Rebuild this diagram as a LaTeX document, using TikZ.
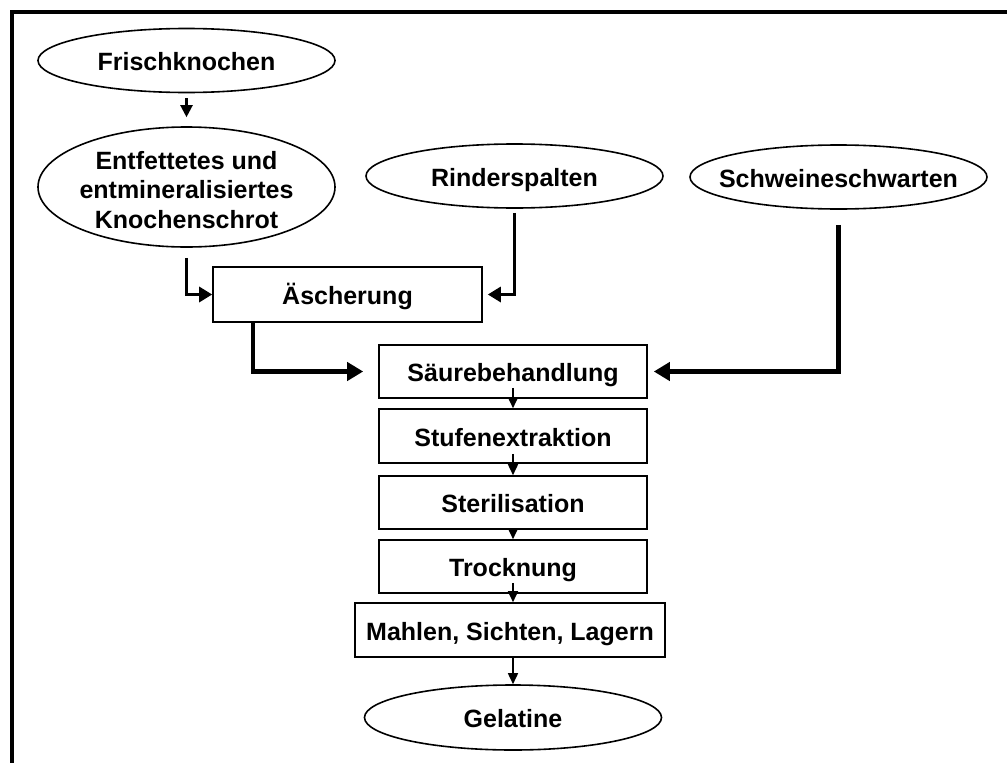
\documentclass[tikz,border=0pt]{standalone}
\usepackage{fontspec}
\setmainfont{Liberation Sans}
\usetikzlibrary{arrows.meta,shapes.geometric}
\tikzset{
  lbl/.style={font=\fontsize{25}{29.5}\selectfont\bfseries, align=center, inner sep=0pt},
  one/.style={text height=20pt, text depth=0pt},
  oval/.style={lbl, ellipse, draw, line width=1.6pt, minimum width=297pt, minimum height=64pt},
  stepbox/.style={lbl, one, rectangle, draw, line width=1.6pt, minimum width=268pt, minimum height=54pt},
  thinarrow/.style={line width=1.6pt, -{Triangle[length=11pt,width=10pt]}},
  midarrow/.style={line width=2.2pt, -{Triangle[length=12pt,width=12pt]}},
  medarrow/.style={line width=3pt, -{Triangle[length=13pt,width=15pt]}},
  thickarrow/.style={line width=4.5pt, -{Triangle[length=16pt,width=18pt]}},
}
\begin{document}
\begin{tikzpicture}[x=1pt,y=-1pt]
\useasboundingbox (0,0) rectangle (1007,763);
\fill[white] (0,0) rectangle (1007,763);
% frame (top and left edges)
\draw[line width=4pt] (1007,11.5) -- (11.5,11.5) -- (11.5,763);

% sources
\node[oval, one] (frisch) at (186.5,60.5) {Frischknochen};
\node[oval, minimum height=120pt, text height=82pt, text depth=0pt] (entf) at (186.5,187) {Entfettetes und\\\makebox[200pt]{entmineralisiertes}\\Knochenschrot};
\node[oval, one] (rind) at (514.5,176) {Rinderspalten};
\node[oval, one] (schw) at (838.5,177) {\makebox[200pt]{Schweineschwarten}};

% process steps
\node[stepbox, minimum width=269pt, minimum height=55pt] (asch) at (347.5,294.5) {Äscherung};
\node[stepbox, minimum height=53pt] (saeure) at (513,371.5) {Säurebehandlung};
\node[stepbox] (stufe) at (513,436) {Stufenextraktion};
\node[stepbox, minimum height=53pt] (steril) at (513,502.5) {Sterilisation};
\node[stepbox, minimum height=53pt] (trock) at (513,566.5) {Trocknung};
\node[stepbox, minimum width=310pt] (mahlen) at (510,630) {Mahlen, Sichten, Lagern};
\node[oval, one, minimum height=65pt] (gel) at (513,717.5) {Gelatine};

% connectors
\draw[midarrow, shorten >=9pt] ([yshift=-5pt]frisch.south) -- (entf.north);
\draw[medarrow] ([yshift=-10pt]entf.south) |- (asch.west);
\draw[medarrow, shorten >=5pt] ([yshift=-4pt]rind.south) |- (asch.east);
\draw[thickarrow, shorten >=15pt] ([xshift=41pt]asch.south west) |- (saeure.west);
\draw[thickarrow, shorten >=6pt] ([yshift=-15pt]schw.south) |- (saeure.east);

\draw[thinarrow] ([yshift=11pt]saeure.south) -- (saeure.south |- stufe.north);
\draw[thinarrow] ([yshift=10pt]stufe.south) -- (stufe.south |- steril.north);
\draw[thinarrow] ([yshift=1pt]steril.south) -- (steril.south |- trock.north);
\draw[thinarrow] ([yshift=11pt]trock.south) -- (trock.south |- mahlen.north);
\draw[thinarrow] (trock.south |- mahlen.south) -- (gel.north);
\end{tikzpicture}
\end{document}
